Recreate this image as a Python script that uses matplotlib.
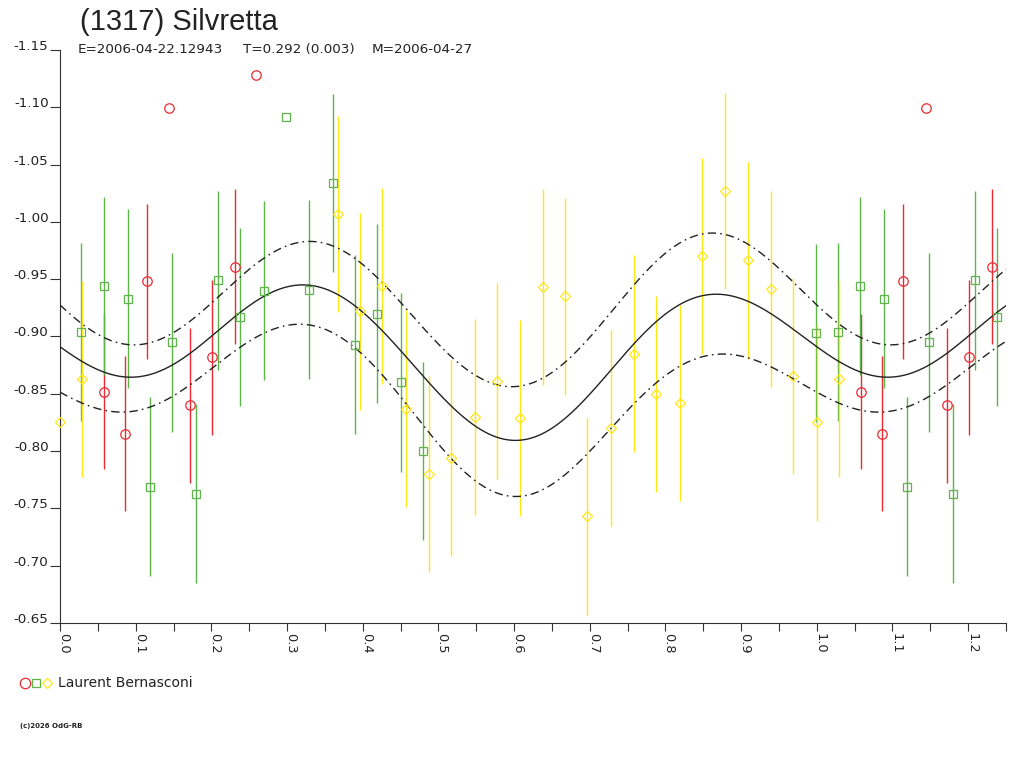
import numpy as np
import matplotlib
matplotlib.use("Agg")
import matplotlib.pyplot as plt
from matplotlib.lines import Line2D
from matplotlib.ticker import FixedLocator, FormatStrFormatter

# ---------------- data (phase, reduced magnitude) ----------------
red_phase = [0.0580, 0.0862, 0.1143, 0.1442, 0.1724, 0.2010, 0.2309, 0.2594]
red_mag   = [-0.852, -0.815, -0.948, -1.099, -0.840, -0.882, -0.961, -1.128]
red_err   = [0.0676, 0.0676, 0.0676, 0.0, 0.0676, 0.0676, 0.0676, 0.0]

green_phase = [0.0281, 0.0576, 0.0893, 0.1187, 0.1482, 0.1799, 0.2093, 0.2384,
               0.2696, 0.2990, 0.3290, 0.3606, 0.3900, 0.4195, 0.4508, 0.4800,
               0.9991]
green_mag   = [-0.904, -0.944, -0.933, -0.769, -0.895, -0.763, -0.949, -0.917,
               -0.940, -1.0915, -0.941, -1.034, -0.893, -0.920, -0.860, -0.800,
               -0.903]
green_err   = [0.078, 0.078, 0.078, 0.078, 0.078, 0.078, 0.078, 0.078,
               0.078, 0.0, 0.078, 0.078, 0.078, 0.078, 0.078, 0.078,
               0.078]

yellow_phase = [0.0000, 0.0295, 0.3668, 0.3962, 0.4253, 0.4570, 0.4873, 0.5163,
                0.5480, 0.5770, 0.6073, 0.6376, 0.6675, 0.6970, 0.7287, 0.7586,
                0.7880, 0.8197, 0.8487, 0.8782, 0.9094, 0.9389, 0.9687]
yellow_mag   = [-0.825, -0.863, -1.007, -0.922, -0.944, -0.837, -0.780, -0.794,
                -0.830, -0.861, -0.829, -0.943, -0.935, -0.743, -0.820, -0.885,
                -0.850, -0.842, -0.970, -1.027, -0.9665, -0.9415, -0.8655]
yellow_err   = [0.0857] * len(yellow_phase)

# fitted lightcurve and its uncertainty envelope
fit_phase = [0.000, 0.0286, 0.0506, 0.0858, 0.1077, 0.1297, 0.1473, 0.1693, 0.2001,
             0.2309, 0.2573, 0.2793, 0.3012, 0.3232, 0.3452, 0.3672, 0.3892, 0.4200,
             0.4508, 0.4859, 0.5168, 0.5475, 0.5739, 0.6003, 0.6365, 0.6684, 0.6992,
             0.7278, 0.7586, 0.7872, 0.8179, 0.8487, 0.8685, 0.8927, 0.9191, 0.9499,
             0.9630, 0.9983]
fit_mag   = [-0.8896, -0.8797, -0.8707, -0.8644, -0.8653, -0.8707, -0.8752, -0.8827,
             -0.8992, -0.9173, -0.9308, -0.9383, -0.9437, -0.9455, -0.9427, -0.9369,
             -0.9268, -0.9078, -0.8855, -0.8633, -0.8411, -0.8221, -0.8110, -0.8085,
             -0.8150, -0.8300, -0.8504, -0.8708, -0.8926, -0.9115, -0.9275, -0.9362,
             -0.9377, -0.9353, -0.9260, -0.9159, -0.9100, -0.8911]

upper_phase = [0.000, 0.0286, 0.0594, 0.088, 0.112, 0.138, 0.169, 0.200, 0.231, 0.257,
               0.279, 0.301, 0.323, 0.345, 0.367, 0.389, 0.420, 0.4508, 0.486, 0.517,
               0.5475, 0.574, 0.6003, 0.6365, 0.668, 0.699, 0.728, 0.7586, 0.787, 0.818,
               0.849, 0.866, 0.893, 0.919, 0.952, 0.998]
upper_mag   = [-0.9292, -0.9127, -0.8977, -0.8932, -0.8938, -0.8992, -0.9113, -0.9292,
               -0.9473, -0.9639, -0.9729, -0.9789, -0.9821, -0.9814, -0.9760, -0.9696,
               -0.9522, -0.9299, -0.9014, -0.8824, -0.8665, -0.8586, -0.8564, -0.8650,
               -0.8766, -0.8984, -0.9202, -0.9449, -0.9668, -0.9813, -0.9892, -0.9900,
               -0.9857, -0.9755, -0.9595, -0.9260]

lower_phase = [0.000, 0.0286, 0.059, 0.088, 0.112, 0.138, 0.169, 0.200, 0.231, 0.257,
               0.279, 0.301, 0.323, 0.345, 0.367, 0.389, 0.420, 0.4508, 0.486, 0.517,
               0.5475, 0.574, 0.6003, 0.6365, 0.668, 0.699, 0.728, 0.7586, 0.787, 0.818,
               0.849, 0.871, 0.893, 0.919, 0.956, 0.998]
lower_mag   = [-0.8517, -0.8422, -0.8361, -0.8346, -0.8361, -0.8422, -0.8557, -0.8737,
               -0.8887, -0.8992, -0.9052, -0.9083, -0.9090, -0.9078, -0.9014, -0.8919,
               -0.8713, -0.8459, -0.8174, -0.7935, -0.7745, -0.7634, -0.7609, -0.7665,
               -0.7806, -0.7995, -0.8184, -0.8402, -0.8592, -0.8751, -0.8839, -0.8853,
               -0.8830, -0.8766, -0.8680, -0.8533]

y_ticks = [-1.15, -1.10, -1.05, -1.00, -0.95, -0.90, -0.85, -0.80, -0.75, -0.70, -0.65]
x_major = [0.0, 0.1, 0.2, 0.3, 0.4, 0.5, 0.6, 0.7, 0.8, 0.9, 1.0, 1.1, 1.2]
x_minor = [0.05, 0.15, 0.25, 0.35, 0.45, 0.55, 0.65, 0.75, 0.85, 0.95, 1.05, 1.15, 1.25]

title = "(1317) Silvretta"
sub_e = "E=2006-04-22.12943"
sub_t = "T=0.292 (0.003)"
sub_m = "M=2006-04-27"
observer = "Laurent Bernasconi"
copyright_txt = "(c)2026 OdG-RB"

RED = "#ec2a32"
GREEN = "#5cb548"
YELLOW = "#ffe619"
DARK = "#222222"
XMAX = 1.25

# ---------------- figure ----------------
fig = plt.figure(figsize=(10.24, 7.68), dpi=100)
ax = fig.add_axes([60 / 1024, 1 - 623 / 768, 946 / 1024, 573 / 768])
ax.set_xlim(0, XMAX)
ax.set_ylim(-0.65, -1.15)


def wrap(ph, mag, err):
    ph = np.asarray(ph); mag = np.asarray(mag); err = np.asarray(err)
    sel = ph + 1.0 <= XMAX + 1e-9
    return (np.concatenate([ph, ph[sel] + 1.0]),
            np.concatenate([mag, mag[sel]]),
            np.concatenate([err, err[sel]]))


def fourier_fit(ph, mag, order=4):
    ph = np.asarray(ph); mag = np.asarray(mag)
    def design(p):
        cols = [np.ones_like(p)]
        for k in range(1, order + 1):
            cols.append(np.cos(2 * np.pi * k * p))
            cols.append(np.sin(2 * np.pi * k * p))
        return np.column_stack(cols)
    coef, *_ = np.linalg.lstsq(design(ph), mag, rcond=None)
    grid = np.linspace(0, XMAX, 800)
    return grid, design(grid) @ coef


series = [
    (red_phase, red_mag, red_err, RED, "o", 6.8),
    (green_phase, green_mag, green_err, GREEN, "s", 5.3),
    (yellow_phase, yellow_mag, yellow_err, YELLOW, "D", 5.4),
]

for ph, mag, err, col, mk, ms in series:
    p, m, e = wrap(ph, mag, err)
    has = e > 0
    ax.vlines(p[has], m[has] - e[has], m[has] + e[has], colors=col, lw=1.0, zorder=2)

for ph, mag, ls in [(fit_phase, fit_mag, "-"),
                    (upper_phase, upper_mag, (0, (6, 3, 1.2, 3))),
                    (lower_phase, lower_mag, (0, (6, 3, 1.2, 3)))]:
    g, v = fourier_fit(ph, mag)
    ax.plot(g, v, color=DARK, lw=1.0, ls=ls, zorder=3)

for ph, mag, err, col, mk, ms in series:
    p, m, e = wrap(ph, mag, err)
    ax.plot(p, m, ls="none", marker=mk, ms=ms, mfc="none", mec=col, mew=0.9,
            zorder=4, clip_on=False)

# axes styling
for s in ("top", "right"):
    ax.spines[s].set_visible(False)
for s in ("left", "bottom"):
    ax.spines[s].set_color("#333333")
    ax.spines[s].set_linewidth(0.8)

ax.xaxis.set_major_locator(FixedLocator(x_major))
ax.xaxis.set_minor_locator(FixedLocator(x_minor))
ax.xaxis.set_major_formatter(FormatStrFormatter("%.1f"))
ax.yaxis.set_major_locator(FixedLocator(y_ticks))
ax.yaxis.set_major_formatter(FormatStrFormatter("%.2f"))

ax.tick_params(axis="x", which="both", direction="out", length=5.8, width=0.8,
               color="#333333", pad=1.5, labelsize=9.3, labelcolor=DARK)
ax.tick_params(axis="y", which="major", direction="out", length=7.2, width=0.8,
               color="#333333", pad=1.0, labelsize=9.7, labelcolor=DARK)

fig.canvas.draw()
for lab in ax.get_xticklabels():
    lab.set_rotation(-90)
    lab.set_rotation_mode("anchor")
    lab.set_horizontalalignment("left")
    lab.set_verticalalignment("baseline")
    lab.set_family("DejaVu Sans")
for lab in ax.get_yticklabels():
    lab.set_verticalalignment("baseline")
    lab.set_family("DejaVu Sans")

# titles
fig.text(80 / 1024, 1 - 30 / 768, title, fontsize=21, family="Liberation Sans",
         color=DARK, ha="left", va="baseline")
for xpix, txt in [(78, sub_e), (243, sub_t), (372, sub_m)]:
    fig.text(xpix / 1024, 1 - 53 / 768, txt, fontsize=9.7, family="DejaVu Sans",
             color=DARK, ha="left", va="baseline")

# legend
ly = 1 - 682.7 / 768
for xpix, col, mk, ms in [(24.5, RED, "o", 7.5), (36, GREEN, "s", 5.6), (47, YELLOW, "D", 5.2)]:
    fig.add_artist(Line2D([xpix / 1024], [ly], transform=fig.transFigure, ls="none",
                          marker=mk, ms=ms, mfc="none", mec=col, mew=0.9))
fig.text(58 / 1024, ly, observer, fontsize=10, family="DejaVu Sans", color=DARK,
         ha="left", va="center")

fig.text(20 / 1024, 1 - 726 / 768, copyright_txt, fontsize=5, family="DejaVu Sans",
         color=DARK, ha="left", va="center", weight="bold")

fig.savefig("out.png", dpi=100)
